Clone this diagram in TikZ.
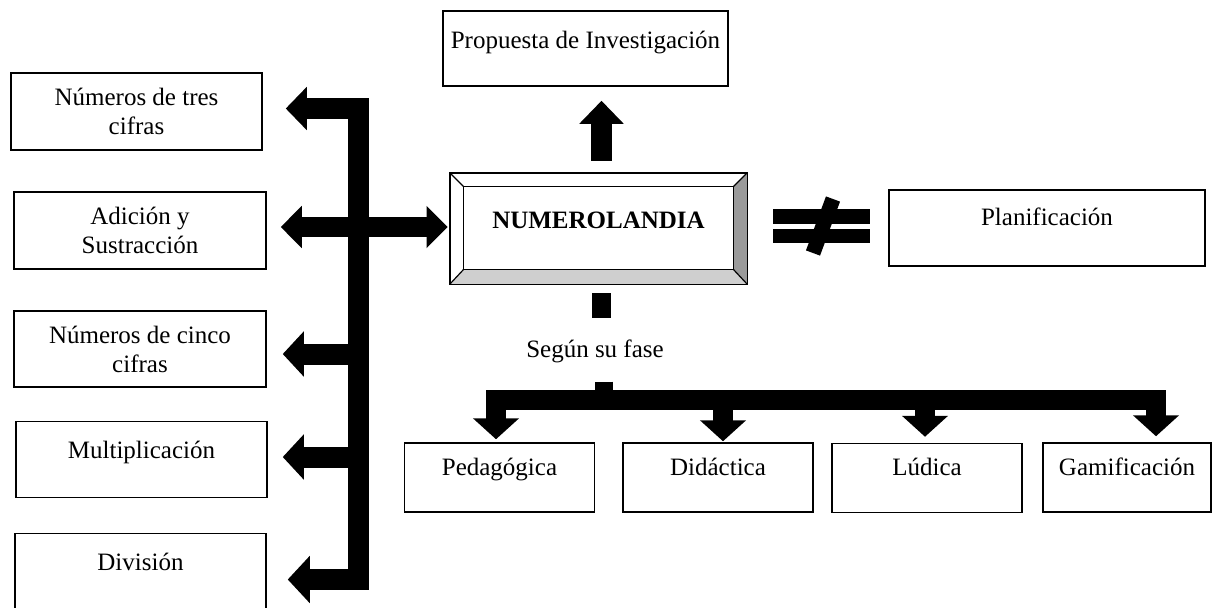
\documentclass[tikz,border=0pt]{standalone}
\usepackage{fontspec}
\setmainfont{Liberation Serif}
\usepackage{xcolor}
\usetikzlibrary{arrows.meta,positioning,calc}
\definecolor{bevelright}{HTML}{9A9A9A}
\definecolor{bevelbottom}{HTML}{CFCFCF}

\begin{document}
\begin{tikzpicture}[x=0.5pt, y=-0.5pt,
    txt/.style={font=\fontsize{12.5}{14.5}\selectfont},
    twobox/.style={txt, draw, line width=0.75pt, inner sep=0pt, align=center, minimum width=125.5pt, minimum height=38.5pt},
    onebox/.style={txt, draw, line width=0.75pt, inner sep=0pt, text height=18.5pt, text depth=19.5pt},
    leafbox/.style={txt, draw, line width=0.75pt, inner sep=0pt, text height=16pt, text depth=18.5pt, minimum width=95pt},
    blockarrow/.style={line width=10.5pt, line join=miter, line cap=butt, -{Triangle[length=10.5pt, width=22pt]}},
    stubline/.style={line width=9.5pt, line cap=butt}
]
    \useasboundingbox (0,0) rectangle (1231,607);

    % left column
    \node[twobox] (tres) at (136.5,111.5) {Números de tres\\cifras};
    \node[twobox, minimum width=126pt] (adicion) at (140,230.5) {Adición y\\Sustracción};
    \node[twobox, minimum width=126pt, minimum height=38pt] (cinco) at (140,349) {Números de cinco\\cifras};
    \node[onebox, minimum width=125.5pt] (multi) at (141.5,459.5) {Multiplicación};
    \node[onebox, minimum width=125.5pt] (division) at (140.5,571.5) {División};

    % centre and right
    \node[onebox, minimum width=142.5pt, text depth=19pt] (propuesta) at (585.5,48.5) {Propuesta de Investigación};
    \node[txt, font=\fontsize{12.5}{14}\selectfont\bfseries, inner sep=0pt, minimum width=148.5pt, text height=27.5pt, text depth=28pt] (numero) at (598.5,228.5) {NUMEROLANDIA};
    \node[onebox, minimum width=158pt, text height=17.5pt, text depth=20.5pt] (planif) at (1047,228) {Planificación};

    % phase boxes
    \node[leafbox] (pedag) at (499.5,477.5) {Pedagógica};
    \node[leafbox] (didact) at (718,477.5) {Didáctica};
    \node[leafbox] (ludica) at (927,478) {Lúdica};
    \node[leafbox, minimum width=84pt] (gamif) at (1127,477.5) {Gamificación};
    \node[txt] (fase) at (595,351) {Según su fase};

    % bevelled frame of the centre box
    \coordinate (bnw) at ($(numero.north west)+(14,14)$);
    \coordinate (bne) at ($(numero.north east)+(-14,14)$);
    \coordinate (bse) at ($(numero.south east)+(-14,-15)$);
    \coordinate (bsw) at ($(numero.south west)+(14,-15)$);
    \fill[bevelright] (numero.north east) -- (numero.south east) -- (bse) -- (bne) -- cycle;
    \fill[bevelbottom] (numero.south west) -- (numero.south east) -- (bse) -- (bsw) -- cycle;
    \draw[line width=0.6pt] (bnw) rectangle (bse);
    \draw[line width=0.6pt] (numero.north west) -- (bnw) (numero.north east) -- (bne)
        (numero.south east) -- (bse) (numero.south west) -- (bsw);
    \draw[line width=0.9pt] (numero.north west) rectangle (numero.south east);

    % left spine
    \coordinate (spine) at (358,0);
    \coordinate (t1) at ([xshift=11.5pt,yshift=1.5pt]tres.east);
    \coordinate (t3) at ([xshift=8pt,yshift=-2.5pt]cinco.east);
    \coordinate (t4) at ([xshift=7.5pt,yshift=1.25pt]multi.east);
    \coordinate (t5) at ([xshift=10.5pt,yshift=-4pt]division.east);
    \draw[blockarrow, {Triangle[length=10.5pt, width=21pt]}-{Triangle[length=11pt, width=23pt]}]
        (t1) -| (spine |- t5) -- (t5);
    \draw[blockarrow] (spine |- t3) -- (t3);
    \draw[blockarrow] (spine |- t4) -- (t4);
    \draw[blockarrow, line width=10pt, {Triangle[length=10.5pt, width=20.5pt]}-{Triangle[length=10.5pt, width=20.5pt]}]
        ([xshift=7pt,yshift=1.75pt]adicion.east) -- ([xshift=-1pt,yshift=0.75pt]numero.west);

    % up to the proposal
    \draw[blockarrow, -{Triangle[length=11.5pt, width=21.5pt]}]
        ([xshift=1.5pt,yshift=6pt]numero.north) -- ([xshift=8pt,yshift=-7pt]propuesta.south);

    % not equal to planning
    \coordinate (neq) at (821.5,226);
    \fill ($(neq)+(-48.5,-17)$) rectangle ($(neq)+(48.5,-2)$);
    \fill ($(neq)+(-48.5,3)$) rectangle ($(neq)+(48.5,17)$);
    \draw[line width=7.5pt] ($(neq)+(11.5,-27)$) -- ($(neq)+(-8.5,27)$);

    % phases
    \draw[stubline] ([xshift=1.5pt,yshift=-4.5pt]numero.south) -- ([xshift=3.25pt,yshift=7pt]fase.north);
    \coordinate (bar) at (604,400);
    \draw[stubline, line width=9pt] ([xshift=4.5pt,yshift=-6pt]fase.south) -- (bar);
    \coordinate (p1) at ([xshift=-1.75pt,yshift=1.5pt]pedag.north);
    \coordinate (p2) at ([xshift=2.5pt,yshift=0.5pt]didact.north);
    \coordinate (p3) at ([xshift=-1pt,yshift=3pt]ludica.north);
    \coordinate (p4) at ([xshift=14.5pt,yshift=3pt]gamif.north);
    \draw[blockarrow, line width=10pt, {Triangle[length=10.5pt, width=22.5pt]}-{Triangle[length=10.5pt, width=22.5pt]}]
        (p1) |- (bar) -| (p4);
    \draw[blockarrow, line width=10pt, -{Triangle[length=10.5pt, width=22.5pt]}] (p2 |- bar) -- (p2);
    \draw[blockarrow, line width=10pt, -{Triangle[length=10.5pt, width=22.5pt]}] (p3 |- bar) -- (p3);
\end{tikzpicture}
\end{document}
